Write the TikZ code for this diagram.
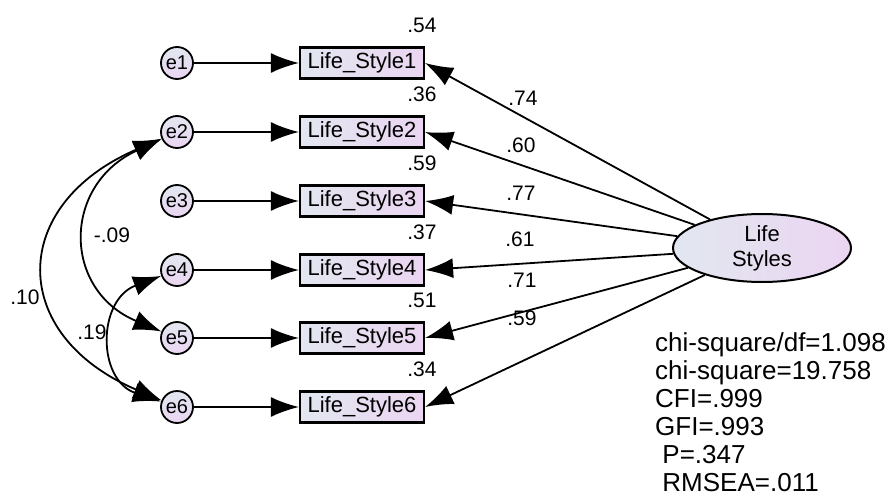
\documentclass[tikz,border=0pt]{standalone}
\usepackage{fontspec}
\setmainfont{Liberation Sans}
\usetikzlibrary{arrows.meta, shapes.geometric, positioning}
\definecolor{varleft}{RGB}{226,231,240}
\definecolor{varright}{RGB}{235,213,241}

\begin{document}
\begin{tikzpicture}[x=1pt, y=1pt,
  observed/.style={rectangle, draw=black, line width=2.2pt, left color=varleft, right color=varright, minimum width=124pt, minimum height=31pt, inner sep=0pt, font=\fontsize{22}{24}\selectfont},
  error/.style={circle, draw=black, line width=1.8pt, top color=varleft, bottom color=varright, minimum size=32pt, inner sep=0pt, font=\fontsize{20}{22}\selectfont},
  latent/.style={ellipse, draw=black, line width=2pt, left color=varleft, right color=varright, minimum width=178pt, minimum height=68pt, inner sep=0pt, align=center, font=\fontsize{22}{25}\selectfont},
  est/.style={inner sep=0pt, font=\fontsize{21}{23}\selectfont},
  arrow/.style={-{Latex[length=28pt, width=20pt]}, line width=1.8pt},
  cov/.style={{Latex[length=28pt, width=20pt]}-{Latex[length=28pt, width=20pt]}, line width=1.8pt}
]
\useasboundingbox (0,0) rectangle (888,-500);

% --- Fehlerterme ---
\node[error] (e1) at (177,-63)  {e1};
\node[error] (e2) at (177,-132) {e2};
\node[error] (e3) at (177,-201) {e3};
\node[error] (e4) at (177,-270) {e4};
\node[error] (e5) at (177,-338) {e5};
\node[error] (e6) at (177,-407) {e6};

% --- beobachtete Variablen ---
\node[observed] (ls1) at (362,-63)  {Life\_Style1};
\node[observed] (ls2) at (362,-132) {Life\_Style2};
\node[observed] (ls3) at (362,-201) {Life\_Style3};
\node[observed] (ls4) at (362,-270) {Life\_Style4};
\node[observed] (ls5) at (362,-338) {Life\_Style5};
\node[observed] (ls6) at (362,-407) {Life\_Style6};

% --- latente Variable ---
\node[latent] (styles) at (762,-248) {Life\\Styles};

% R-Quadrat
\node[est] (r1) at (422,-25)  {.54};
\node[est] (r2) at (422,-94)  {.36};
\node[est] (r3) at (422,-163) {.59};
\node[est] (r4) at (422,-232) {.37};
\node[est] (r5) at (422,-300) {.51};
\node[est] (r6) at (422,-369) {.34};

% Ladungen
\node[est] (l1) at (523,-98)  {.74};
\node[est] (l2) at (521,-145) {.60};
\node[est] (l3) at (521,-193) {.77};
\node[est] (l4) at (520,-239) {.61};
\node[est] (l5) at (522,-280) {.71};
\node[est] (l6) at (522,-318) {.59};

% Kovarianzen
\node[est] (c25) at (112,-235) {-.09};
\node[est] (c26) at (25,-297)  {.10};
\node[est] (c46) at (92,-332)  {.19};

% Modellguete
\node[anchor=north west, align=left, inner sep=0pt, font=\fontsize{26}{28}\selectfont] (fit) at (655,-332)
  {chi-square/df=1.098\\chi-square=19.758\\CFI=.999\\GFI=.993\\\ P=.347\\\ RMSEA=.011};

% Verbindungen
\draw[arrow] (e1) -- (ls1);
\draw[arrow] (e2) -- (ls2);
\draw[arrow] (e3) -- (ls3);
\draw[arrow] (e4) -- (ls4);
\draw[arrow] (e5) -- (ls5);
\draw[arrow] (e6) -- (ls6);

\draw[arrow] (styles) -- (ls1.east);
\draw[arrow] (styles) -- (ls2.east);
\draw[arrow] (styles) -- (ls3.east);
\draw[arrow] (styles) -- (ls4.east);
\draw[arrow] (styles) -- (ls5.east);
\draw[arrow] (styles) -- (ls6.east);

\draw[cov] (e2) .. controls (8,-205) and (8,-335) .. (e6);
\draw[cov] (e2) .. controls (62,-185) and (62,-290) .. (e5);
\draw[cov] (e4) .. controls (97,-300) and (97,-380) .. (e6);
\end{tikzpicture}
\end{document}
